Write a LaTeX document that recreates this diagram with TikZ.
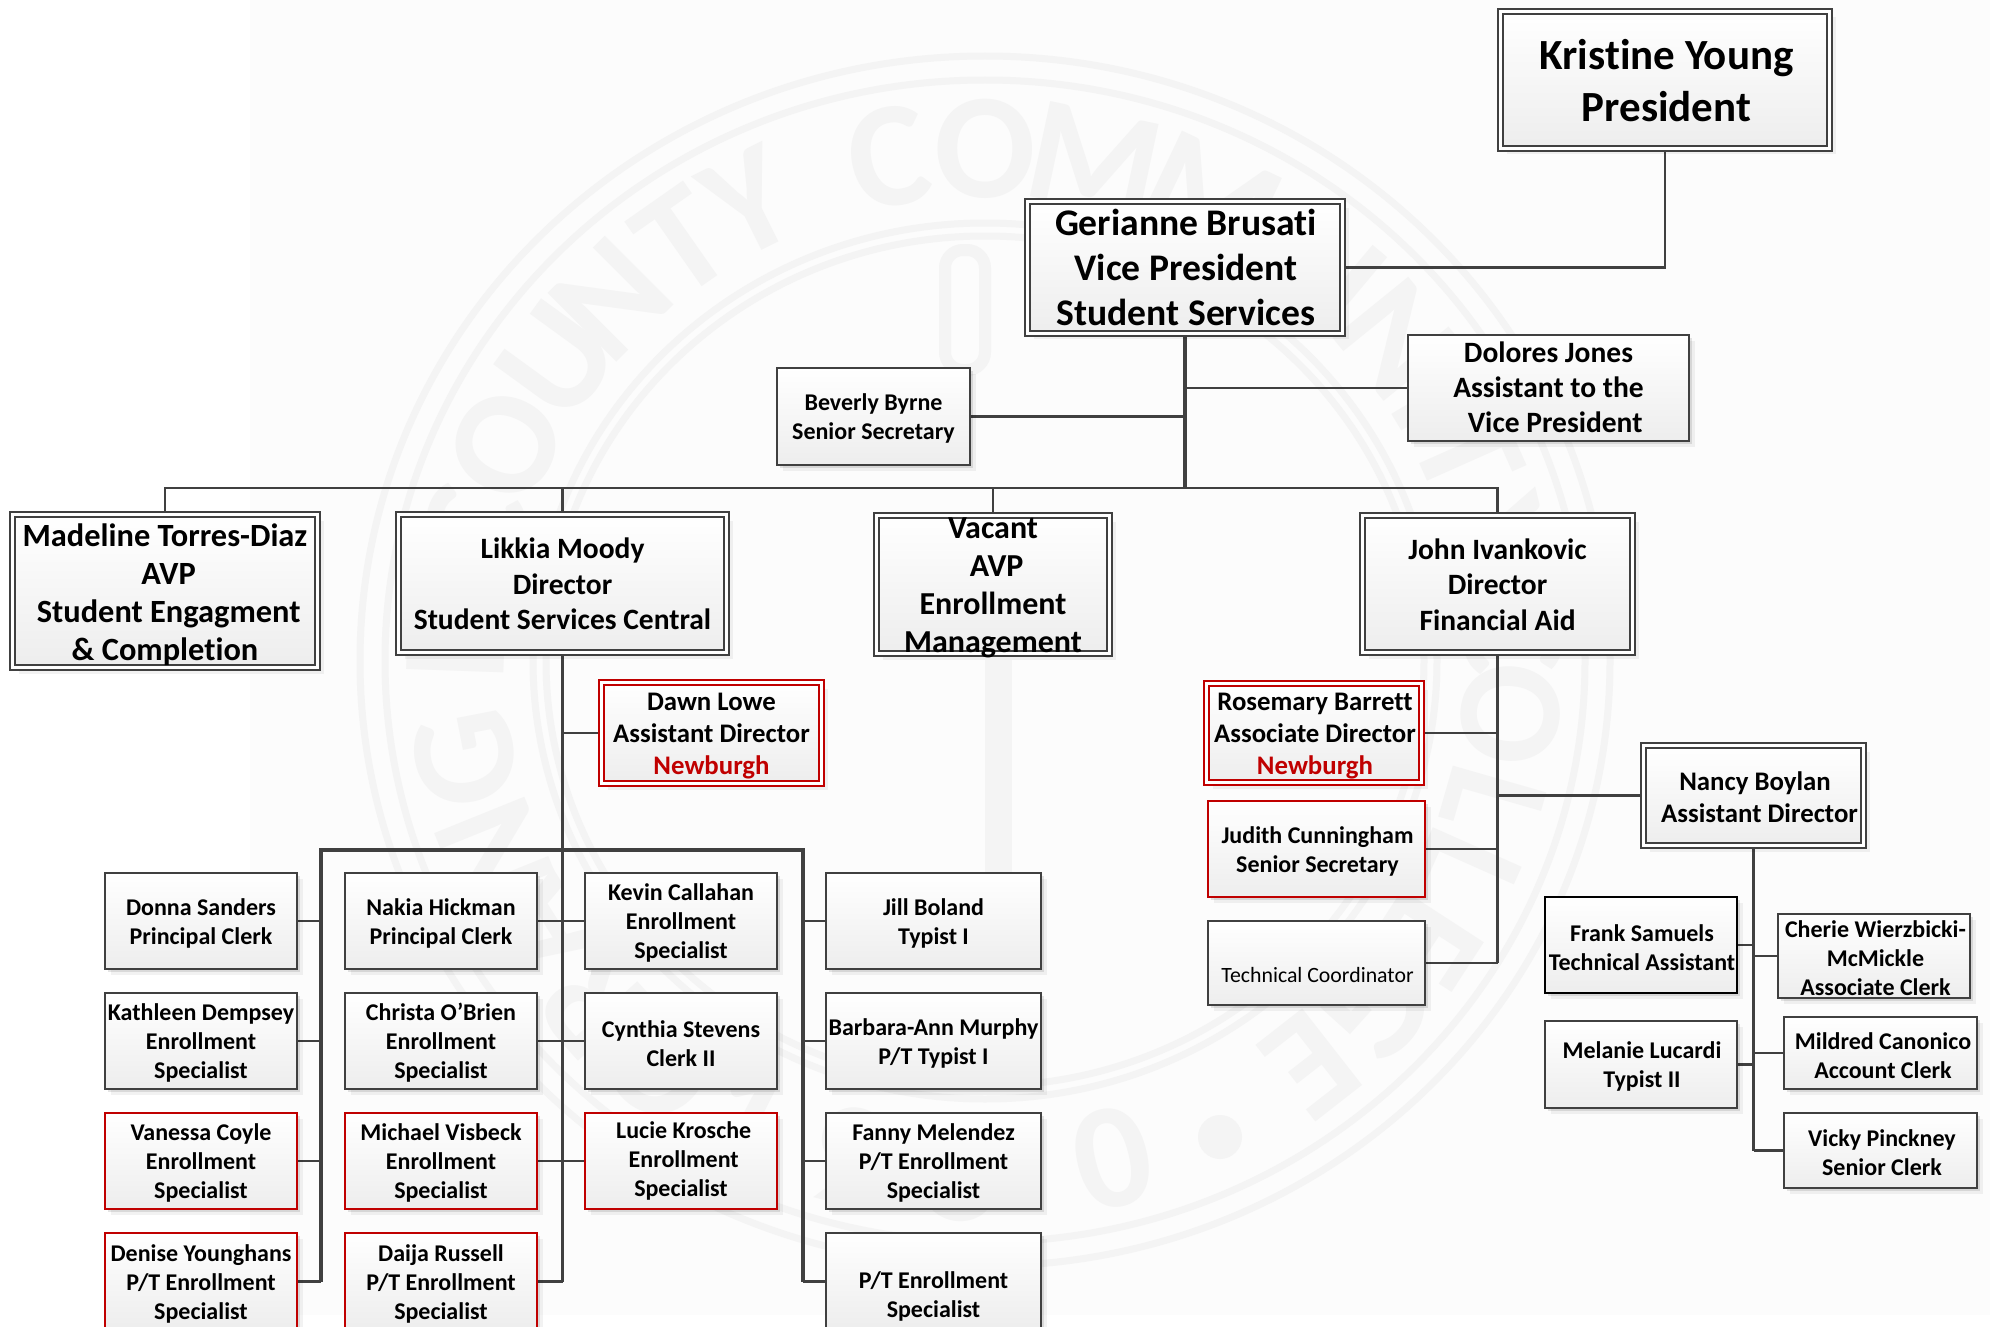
\documentclass[tikz,border=0pt]{standalone}
\usepackage{fontspec}
\setmainfont{Carlito}[Ligatures=NoCommon]
\usetikzlibrary{shadows,backgrounds}
\definecolor{ln}{HTML}{404040}
\definecolor{rd}{HTML}{C00000}
\definecolor{wm}{HTML}{F4F4F4}
\newcommand{\fs}[2]{\fontsize{#1}{#2}\selectfont\bfseries}
\newcommand{\ts}[2]{\raisebox{#1}[0pt][0pt]{\begin{tabular}{@{}c@{}}#2\end{tabular}}}
\newcommand{\dn}[1]{\rule[-#1pt]{0pt}{1pt}}
\tikzset{
  box/.style={rectangle,inner sep=0pt,outer sep=0pt,align=center,text=black,draw=ln,line width=2.2pt,
    top color=white,bottom color=black!7,
    general shadow={shadow xshift=6pt,shadow yshift=-6pt,fill=black,opacity=.05},
    general shadow={shadow xshift=3pt,shadow yshift=-3pt,fill=black,opacity=.10}},
  dbl/.style={box,line width=2pt,double=white,double distance=3pt},
  redbox/.style={draw=rd},
  small/.style={font=\fs{24}{29}},
  mid/.style={font=\fs{26.8}{32}},
  conn/.style={draw=ln,line width=2.4pt},
  trunk/.style={draw=ln,line width=3.2pt},
  wmring/.style={draw=wm,line width=7pt},
  wmletter/.style={text=wm,inner sep=0pt,font=\fontsize{150}{150}\selectfont\bfseries},
}
\newcommand{\bx}[7]{\node[#2,minimum width={#5-(#3)},minimum height={#6-(#4)}] (#1) at ({(#3+#5)/2},{(#4+#6)/2}) {\rule{0pt}{.9em}#7};}
\newcommand{\dbx}[7]{\node[#2,minimum width={#5-(#3)-7},minimum height={#6-(#4)-7}] (#1) at ({(#3+#5)/2},{(#4+#6)/2}) {\rule{0pt}{.9em}#7};}
\begin{document}
\begin{tikzpicture}[x=1pt,y=-1pt]
\useasboundingbox (0,0) rectangle (1990,1327);
\begin{scope}[on background layer]
  \fill[white] (0,0) rectangle (1990,1327);
  \fill[black!1.2] (250,0) rectangle (1990,1315);
  \coordinate (seal) at (985,661);
  \draw[wmring] (seal) ellipse[x radius=625,y radius=605];
  \draw[wmring] (seal) ellipse[x radius=600,y radius=581];
  \draw[wmring] (seal) ellipse[x radius=452,y radius=438];
  \draw[wmring] (seal) ellipse[x radius=439,y radius=425];
  \foreach \c/\a [count=\i] in {O/232,R/222,A/212,N/202,G/191,E/178,C/165,O/155,U/144,N/135,T/125,Y/116.5,
      C/100.5,O/90,M/78,M/64.6,U/50,N/39,I/31,T/24,Y/14,C/3,O/-6,L/-16,L/-24,E/-33,G/-42,E/-52}
    \node[wmletter,rotate=\a-90] (wl\i) at ({985+.846*625*cos(\a)},{661-.846*605*sin(\a)}) {\c};
  \foreach \c/\a [count=\i] in {1/-117,9/-105,5/-92,0/-76}
    \node[wmletter,rotate=\a+90] (wy\i) at ({985+.846*625*cos(\a)},{661-.846*605*sin(\a)}) {\c};
  \fill[wm] (1220,1137) circle[radius=22];
  \draw[wm,line width=12pt,rounded corners=18pt] (945,250) rectangle (985,370);
  \fill[wm] (985,660) rectangle (1012,900);
\end{scope}
% ---- nodes
\dbx{pres}{dbl,font=\fs{43}{52}}{1497}{8}{1833}{152}{\hspace{3pt}Kristine Young\\\hspace{3pt}President\dn{8}}
\dbx{vp}{dbl,font=\fs{37.6}{45}}{1024}{200}{1346}{335}{\hspace{2pt}Gerianne Brusati\\\hspace{2pt}Vice President\\\hspace{2pt}Student Services\dn{8}}
\bx{dolores}{box,font=\fs{29.5}{35}}{1408}{335}{1689}{441}{Dolores Jones\\Assistant to the\\\ \ Vice President\dn{8}}
\bx{beverly}{box,small}{777}{368}{970}{465}{Beverly Byrne\\Senior Secretary}
\dbx{madeline}{dbl,font=\fs{32.4}{38}}{9}{511}{321}{671}{Madeline Torres-Diaz\\\ AVP\\\ Student Engagment\\\& Completion}
\dbx{likkia}{dbl,font=\fs{29.5}{35.5}}{395}{511}{730}{656}{Likkia Moody\\Director\\Student Services Central\dn{5}}
\dbx{vacant}{dbl,font=\fs{32}{38}}{873}{512}{1113}{657}{\ts{5pt}{Vacant\\\ AVP\\Enrollment\\Management}}
\dbx{john}{dbl,font=\fs{29.5}{35.5}}{1359}{512}{1636}{656}{John Ivankovic\\Director\\Financial Aid\dn{5}}
\dbx{dawn}{dbl,redbox,mid}{598}{679}{825}{787}{Dawn Lowe\\Assistant Director\\{\color{rd}Newburgh}}
\dbx{rosemary}{dbl,redbox,mid}{1203}{680}{1425}{786}{\hspace{2pt}Rosemary Barrett\\\hspace{2pt}Associate Director\\\hspace{2pt}{\color{rd}Newburgh}}
\bx{judith}{box,redbox,small}{1208}{801}{1425}{897}{\hspace{2pt}Judith Cunningham\\\hspace{2pt}Senior Secretary}
\bx{tech}{box,font=\fontsize{21.8}{27}\selectfont}{1208}{921}{1425}{1005}{\\\hspace{2pt}Technical Coordinator\dn{8}}
\dbx{nancy}{dbl,mid}{1640}{742}{1867}{849}{\hspace{3pt}Nancy Boylan\\\ \ Assistant Director\dn{3}}
\bx{frank}{box,small,draw=black}{1545}{897}{1737}{993}{\hspace{2pt}Frank Samuels\\\hspace{2pt}Technical Assistant}
\bx{melanie}{box,small}{1545}{1021}{1737}{1108}{\hspace{2pt}Melanie Lucardi\\\hspace{2pt}Typist II}
\bx{cherie}{box,small}{1778}{914}{1970}{998}{\hspace{3pt}Cherie Wierzbicki-\\\hspace{3pt}McMickle\\\hspace{3pt}Associate Clerk}
\bx{mildred}{box,small}{1784}{1017}{1977}{1089}{\hspace{5pt}Mildred Canonico\\\hspace{5pt}Account Clerk}
\bx{vicky}{box,small}{1784}{1113}{1977}{1188}{\hspace{3pt}Vicky Pinckney\\\hspace{3pt}Senior Clerk}
% col 1
\bx{a1}{box,small}{105}{873}{297}{969}{Donna Sanders\\Principal Clerk}
\bx{a2}{box,small}{105}{993}{297}{1089}{Kathleen Dempsey\\Enrollment\\Specialist}
\bx{a3}{box,small,redbox}{105}{1113}{297}{1209}{Vanessa Coyle\\Enrollment\\Specialist}
\bx{a4}{box,small,redbox}{105}{1233}{297}{1330}{Denise Younghans\\P/T Enrollment\\Specialist}
% col 2
\bx{b1}{box,small}{345}{873}{537}{969}{Nakia Hickman\\Principal Clerk}
\bx{b2}{box,small}{345}{993}{537}{1089}{Christa O’Brien\\Enrollment\\Specialist}
\bx{b3}{box,small,redbox}{345}{1113}{537}{1209}{Michael Visbeck\\Enrollment\\Specialist}
\bx{b4}{box,small,redbox}{345}{1233}{537}{1330}{Daija Russell\\P/T Enrollment\\Specialist}
% col 3
\bx{c1}{box,small}{585}{873}{777}{969}{Kevin Callahan\\Enrollment\\Specialist}
\bx{c2}{box,small}{585}{993}{777}{1089}{Cynthia Stevens\\Clerk II}
\bx{c3}{box,small,redbox}{585}{1113}{777}{1209}{\ts{4pt}{\ Lucie Krosche\\\ Enrollment\\Specialist}}
% col 4
\bx{d1}{box,small}{826}{873}{1041}{969}{Jill Boland\\Typist I}
\bx{d2}{box,small}{826}{993}{1041}{1089}{Barbara-Ann Murphy\\P/T Typist I}
\bx{d3}{box,small}{826}{1113}{1041}{1209}{Fanny Melendez\\P/T Enrollment\\Specialist}
\bx{d4}{box,small}{826}{1233}{1041}{1330}{\\[-4pt]P/T Enrollment\\Specialist}
% ---- connectors
\coordinate (busy) at (0,488);
\coordinate (trA) at (321,850);
\coordinate (trD) at (803,850);
\begin{scope}[on background layer]
\draw[conn] (pres.south) |- (vp.east);
\draw[trunk] (vp.south) -- (vp.south |- busy);
\draw[conn] (dolores.west) -- (vp.south |- dolores.west);
\draw[conn] (beverly.east) -- (vp.south |- beverly.east);
\draw[conn] (madeline.north) |- (vp.south |- busy);
\draw[conn] (john.north) |- (vp.south |- busy);
\draw[conn] (likkia.north) -- (likkia.north |- busy);
\draw[conn] (vacant.north) -- (vacant.north |- busy);
% Likkia
\draw[trunk] (likkia.south) -- (likkia.south |- a4.east);
\draw[conn] (dawn.west) -- (likkia.south |- dawn.west);
\draw[trunk] (trA |- a4.east) -- (trA) -- (trD) -- (trD |- d4.east);
\foreach \n in {a1,a2,a3,a4} \draw[conn] (\n.east) -- (trA |- \n.east);
\foreach \n in {b1,b2,b3,b4} \draw[conn] (\n.east) -- (likkia.south |- \n.east);
\foreach \n in {c1,c2,c3} \draw[conn] (\n.west) -- (likkia.south |- \n.west);
\foreach \n in {d1,d2,d3,d4} \draw[conn] (\n.west) -- (trD |- \n.west);
% John
\draw[trunk] (john.south) -- (john.south |- tech.east);
\foreach \n in {rosemary,judith,tech} \draw[conn] (\n.east) -- (john.south |- \n.east);
\draw[conn] (nancy.west) -- (john.south |- nancy.west);
% Nancy
\draw[trunk] (nancy.south) -- (nancy.south |- vicky.west);
\foreach \n in {frank,melanie} \draw[conn] (\n.east) -- (nancy.south |- \n.east);
\foreach \n in {cherie,mildred,vicky} \draw[conn] (\n.west) -- (nancy.south |- \n.west);
\end{scope}
\end{tikzpicture}
\end{document}
